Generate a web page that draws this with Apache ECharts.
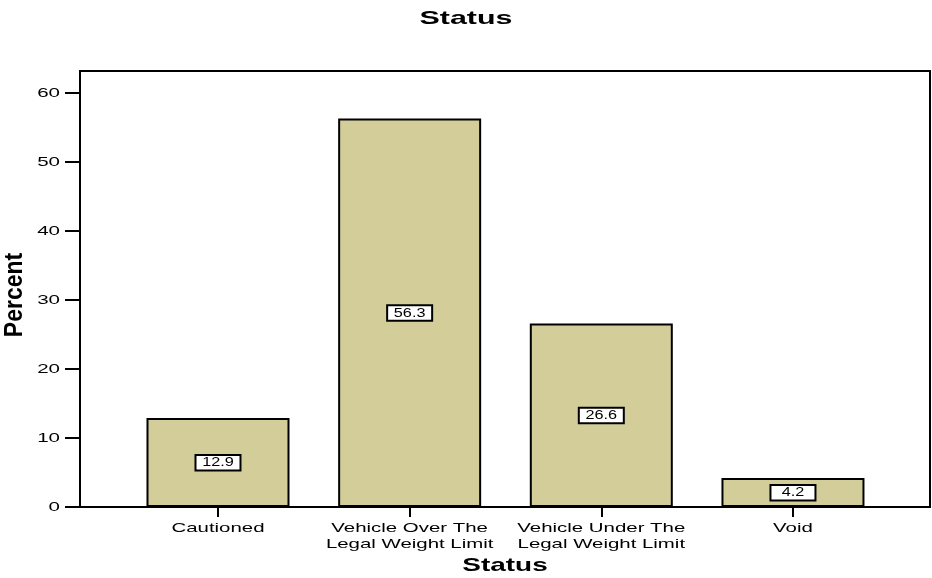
<!DOCTYPE html>
<html>
<head>
<meta charset="utf-8">
<script src="https://cdn.jsdelivr.net/npm/echarts@6/dist/echarts.min.js"></script>
<style>
  html, body { margin: 0; padding: 0; background: #fff; }
  #chart { width: 932px; height: 578px; }
</style>
</head>
<body>
<div id="chart"></div>
<script>
// Frequency chart of case status (percent of all cases)
const chartTitle = 'Status';
const categories = ['Cautioned', 'Vehicle Over The\nLegal Weight Limit', 'Vehicle Under The\nLegal Weight Limit', 'Void'];
const percents = [12.9, 56.3, 26.6, 4.2];
const yTicks = [0, 10, 20, 30, 40, 50, 60];
const xName = 'Status';
const yName = 'Percent';

const FONT = '"Liberation Sans", Arial, Helvetica, sans-serif';
const X_MIN = -0.72, X_MAX = 3.715, Y_MAX = 63.2;
const catIndex = categories.map((_, i) => i);

const chart = echarts.init(document.getElementById('chart'), null, { renderer: 'canvas' });

const black = { color: '#000', width: 2 };
chart.setOption({
  animation: false,
  backgroundColor: '#fff',
  grid: {
    left: 80, right: 2, top: 71, bottom: 71,
    show: true, borderColor: '#000', borderWidth: 2, backgroundColor: 'transparent'
  },
  xAxis: {
    type: 'value', min: X_MIN, max: X_MAX,
    splitLine: { show: false },
    axisLine: { show: true, onZero: false, lineStyle: black },
    axisTick: { show: true, customValues: catIndex, length: 10, lineStyle: black },
    axisLabel: { show: false }
  },
  yAxis: {
    type: 'value', min: 0, max: Y_MAX,
    splitLine: { show: false },
    axisLine: { show: true, onZero: false, lineStyle: black },
    axisTick: { show: true, customValues: yTicks, length: 15, lineStyle: black },
    axisLabel: { show: false }
  },
  series: [{
    type: 'bar',
    data: percents.map((v, i) => [i, v]),
    barWidth: 143,
    itemStyle: { color: '#d3ce99', borderColor: '#000', borderWidth: 2 },
    label: { show: false }
  }]
});

// Wide-set text, placed from the axis scales
const px = v => chart.convertToPixel({ xAxisIndex: 0 }, v);
const py = v => chart.convertToPixel({ yAxisIndex: 0 }, v);
const plotLeft = px(X_MIN), plotRight = px(X_MAX);
const plotBottom = py(0), plotTop = py(Y_MAX);

function txt(text, x, y, font, sx, align, vAlign, extra) {
  return Object.assign({
    type: 'text', x: x, y: y, scaleX: sx, z: 100, silent: true,
    style: {
      text: text, x: 0, y: 0, font: font, fill: '#000',
      align: align, verticalAlign: vAlign, textAlign: align, textVerticalAlign: vAlign, lineHeight: 16
    }
  }, extra || {});
}

const elements = [];
elements.push(txt(chartTitle, chart.getWidth() / 2, 19, 'bold 19px ' + FONT, 1.6, 'center', 'middle'));

yTicks.forEach(v => {
  elements.push(txt(String(v), plotLeft - 20, py(v), '13px ' + FONT, 1.58, 'right', 'middle'));
});

categories.forEach((c, i) => {
  elements.push(txt(c, px(i), plotBottom + 13, '13px ' + FONT, 1.57, 'center', 'top'));
});

percents.forEach((v, i) => {
  elements.push({
    type: 'group', x: px(i), y: py(v / 2), z: 100, silent: true,
    children: [
      { type: 'rect', z: 100, shape: { x: -22.5, y: -7.5, width: 45, height: 15.5 },
        style: { fill: '#fff', stroke: '#000', lineWidth: 2 } },
      txt(v.toFixed(1), 0, 0.5, '12.5px ' + FONT, 1.3, 'center', 'middle', { z: 101 })
    ]
  });
});

elements.push(txt(xName, (plotLeft + plotRight) / 2, 566, 'bold 19px ' + FONT, 1.47, 'center', 'middle'));
elements.push(txt(yName, 15, (plotTop + plotBottom) / 2 + 6, 'bold 23px ' + FONT, 1, 'center', 'middle',
  { rotation: Math.PI / 2, scaleY: 1.12 }));

chart.setOption({ graphic: { elements: elements } });
</script>
</body>
</html>
